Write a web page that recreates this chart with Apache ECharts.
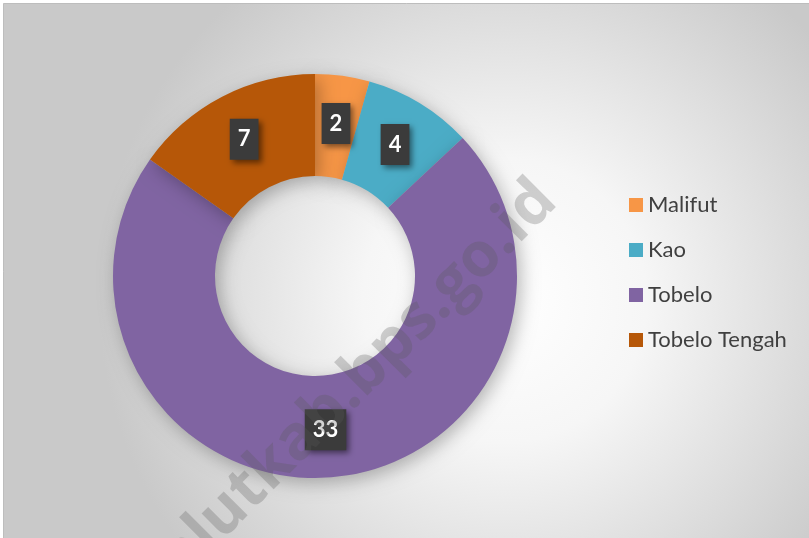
<!DOCTYPE html>
<html>
<head>
<meta charset="utf-8">
<script src="https://cdn.jsdelivr.net/npm/echarts@6/dist/echarts.min.js"></script>
<style>
  html, body { margin: 0; padding: 0; background: #ffffff; }
  #main { width: 809px; height: 538px; }
</style>
</head>
<body>
<div id="main"></div>
<script>
  // data
  var kecamatan = ['Malifut', 'Kao', 'Tobelo', 'Tobelo Tengah'];
  var jumlah = [2, 4, 33, 7];
  var warna = ['#F79646', '#4BACC6', '#8064A2', '#B65708'];

  var chart = echarts.init(document.getElementById('main'));

  var option = {
    animation: false,
    color: warna,
    graphic: [
      {
        type: 'rect',
        z: -10,
        shape: { x: 3.5, y: 3.5, width: 808, height: 540 },
        style: {
          fill: {
            type: 'radial', x: 0.62, y: 0.55, r: 0.75,
            colorStops: [
              { offset: 0, color: '#ffffff' },
              { offset: 0.35, color: '#f6f6f6' },
              { offset: 1, color: '#c9c9c9' }
            ]
          },
          stroke: '#bdbdbd', lineWidth: 1
        }
      },
      {
        // watermark
        type: 'text',
        z: 100,
        x: 344, y: 394,
        rotation: Math.PI / 4,
        style: {
          text: 'halutkab.bps.go.id',
          font: 'bold 62px "Open Sans", sans-serif',
          fill: 'rgba(90,90,90,0.27)',
          align: 'center',
          verticalAlign: 'middle'
        }
      }
    ],
    legend: {
      orient: 'vertical',
      left: 624,
      top: 189,
      itemWidth: 14,
      itemHeight: 14,
      itemGap: 23,
      icon: 'rect',
      textStyle: {
        fontSize: 22,
        lineHeight: 20,
        color: '#404040',
        fontFamily: 'Lato, "Open Sans", sans-serif'
      },
      data: kecamatan
    },
    series: [
      {
        type: 'pie',
        center: [315, 276],
        radius: [100, 202],
        startAngle: 90,
        clockwise: true,
        avoidLabelOverlap: false,
        itemStyle: {
          borderWidth: 0,
          shadowBlur: 18,
          shadowColor: 'rgba(0,0,0,0.28)',
          shadowOffsetX: 4,
          shadowOffsetY: 5
        },
        emphasis: { disabled: true },
        label: {
          show: true,
          position: 'inside',
          formatter: '{c}',
          color: '#ffffff',
          fontSize: 22,
          fontWeight: 'bold',
          fontFamily: 'Lato, "Open Sans", sans-serif',
          backgroundColor: '#3b3b3b',
          padding: [10, 8, 9, 8],
          shadowBlur: 6,
          shadowColor: 'rgba(0,0,0,0.5)',
          shadowOffsetX: 3,
          shadowOffsetY: 3
        },
        labelLine: { show: false },
        data: kecamatan.map(function (k, i) {
          return { name: k, value: jumlah[i] };
        })
      }
    ]
  };

  chart.setOption(option);
</script>
</body>
</html>
